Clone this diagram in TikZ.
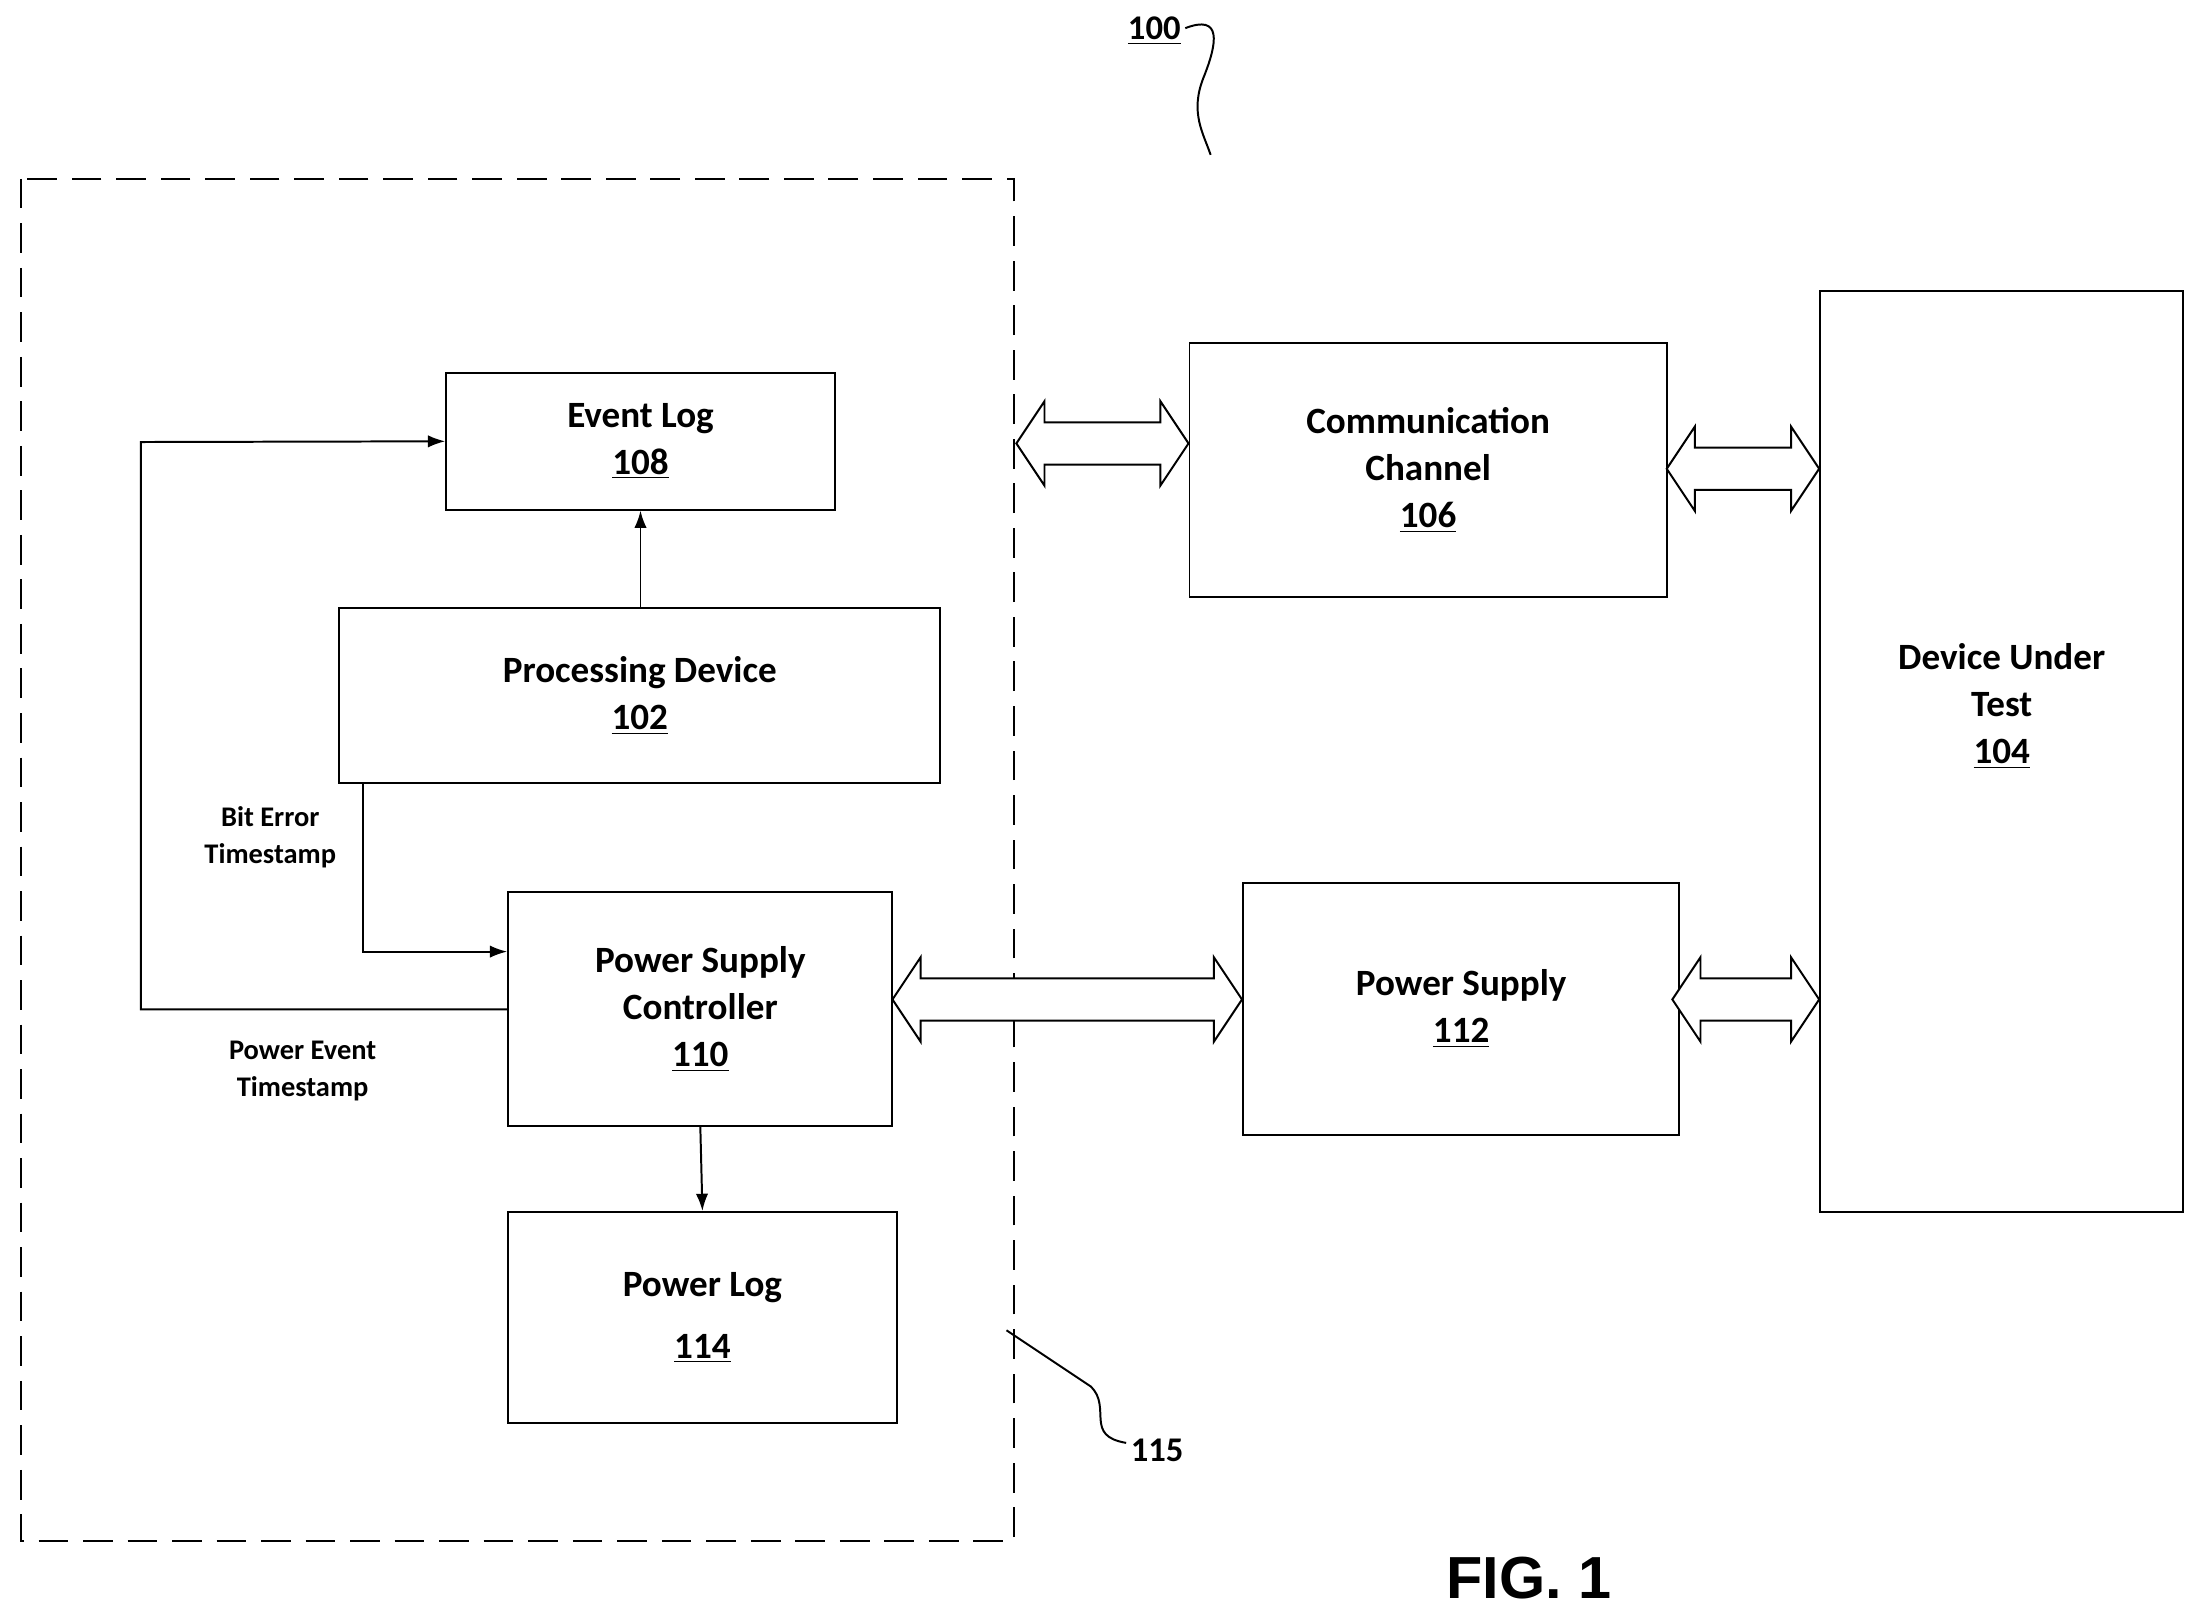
\documentclass[tikz,border=0pt]{standalone}
\usepackage{fontspec}
\setmainfont{Carlito}
\newfontfamily\figfont{Liberation Sans}
\usetikzlibrary{calc, arrows.meta}
\tikzset{%
  block/.style  = {draw, thick, rectangle, align = center, font = \fontsize{15}{19}\selectfont\bfseries},
  note/.style   = {align = center, font = \fontsize{11.5}{15}\selectfont\bfseries},
  sig/.style    = {thick, -{Latex[length=7pt, width=5pt]}},
  bus/.style    = {draw, thick, fill = white}
}
% hollow double-headed bus arrow between two points at equal height
\newcommand{\busarrow}[2]{%
  \draw[bus] let \p1 = (#1), \p2 = (#2) in
    (\x1,\y1) -- ({\x1+0.4cm},{\y1+0.6cm}) -- ({\x1+0.4cm},{\y1+0.3cm})
    -- ({\x2-0.4cm},{\y1+0.3cm}) -- ({\x2-0.4cm},{\y1+0.6cm}) -- (\x2,\y1)
    -- ({\x2-0.4cm},{\y1-0.6cm}) -- ({\x2-0.4cm},{\y1-0.3cm})
    -- ({\x1+0.4cm},{\y1-0.3cm}) -- ({\x1+0.4cm},{\y1-0.6cm}) -- cycle;}

\begin{document}
\begin{tikzpicture}[x = 0.02cm, y = -0.02cm]
\useasboundingbox (0,0) rectangle (1560,1143);
%boundary
\draw[thick, dash pattern = on 12pt off 6pt] (15,127) rectangle (720,1095);
%blocks
\node[block, minimum width = 276*0.02cm, minimum height = 97*0.02cm] (ev) at (455,313.5) {Event Log\\\underline{108}};
\node[block, minimum width = 427*0.02cm, minimum height = 124*0.02cm] (pd) at (454.5,494) {Processing Device\\\underline{102}};
\node[block, minimum width = 273*0.02cm, minimum height = 166*0.02cm] (psc) at (497.5,717) {Power Supply\\Controller\\\underline{110}};
\node[block, minimum width = 276*0.02cm, minimum height = 150*0.02cm] (pl) at (499,936) {Power Log\\[6pt]\underline{114}};
\node[block, minimum width = 339*0.02cm, minimum height = 180*0.02cm] (cc) at (1014.5,334) {Communication\\Channel\\\underline{106}};
\node[block, minimum width = 310*0.02cm, minimum height = 179*0.02cm] (ps) at (1038,716.5) {Power Supply\\\underline{112}};
\node[block, minimum width = 258*0.02cm, minimum height = 654*0.02cm] (dut) at (1422,534) {Device Under\\Test\\\underline{104}\\[0.7cm]\mbox{}};
%bus arrows
\coordinate (b1) at (722,315);
\busarrow{b1}{cc.west |- b1}
\coordinate (b2) at (1184,333);
\busarrow{b2}{dut.west |- b2}
\coordinate (b3) at (634,710);
\busarrow{b3}{ps.west |- b3}
\coordinate (b4) at (1188,710);
\busarrow{b4}{dut.west |- b4}
%signal lines
\draw[sig] (pd.north -| ev) -- (ev.south);
\draw[sig] (pd.south -| 258,0) -- (258,676) -- (psc.west |- 0,676);
\draw[sig] (psc.west) -- (100,717) -- (100,314) -- (ev.west);
\draw[sig] (psc.south) -- (pl.north);
%signal labels
\node[note] (bet) at (192,595) {Bit Error\\Timestamp};
\node[note] (pet) at (215,761) {Power Event\\Timestamp};
%reference labels
\node[font = \fontsize{14}{16}\selectfont\bfseries] (r100) at (820,22) {\underline{100}};
\draw[thick] (842,20) .. controls (868,10) and (865,30) .. (855,55) .. controls (845,80) and (855,95) .. (860,110);
\node[font = \fontsize{14}{16}\selectfont\bfseries] (r115) at (822,1030) {115};
\draw[thick] (715,945) -- (775,985) .. controls (790,1000) and (770,1020) .. (800,1025);
\node[font = \fontsize{24}{28}\selectfont\bfseries\figfont] (fig) at (1086,1121) {FIG. 1};
\end{tikzpicture}
\end{document}
